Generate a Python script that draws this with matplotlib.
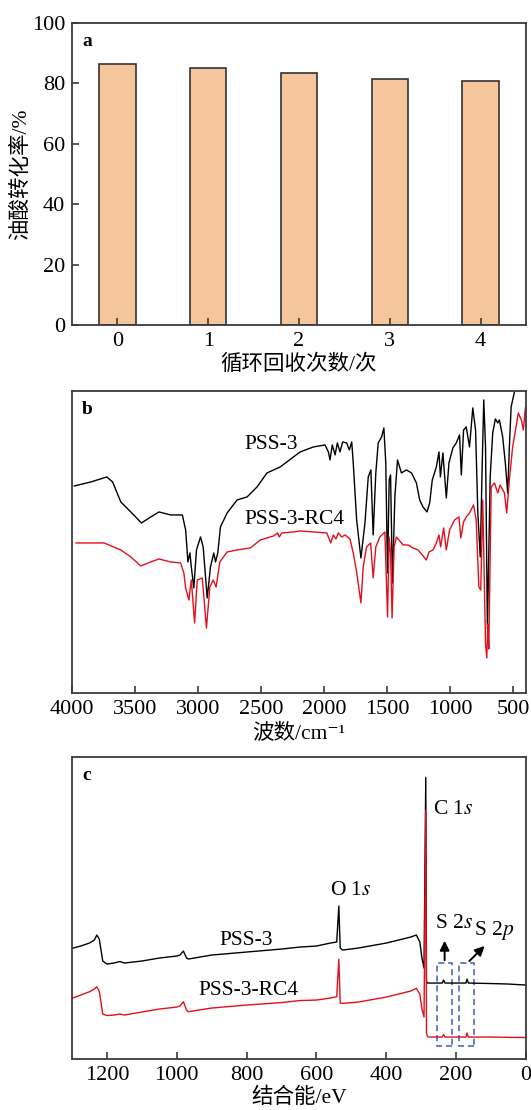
import matplotlib
matplotlib.use('Agg')
import matplotlib.pyplot as plt
from matplotlib.patches import Rectangle

plt.rcParams['font.family'] = ['Liberation Serif', 'Noto Sans CJK SC', 'DejaVu Serif']
plt.rcParams['mathtext.fontset'] = 'stix'

# (a) recycling test
cycles = [0, 1, 2, 3, 4]
conversion = [86.3, 85.1, 83.6, 81.5, 80.8]

# (b) FTIR, wavenumber (cm-1) vs transmittance (a.u.)
ir_wn_pss3 = [3982, 3850, 3724, 3678, 3613, 3534, 3449, 3376, 3310, 3218,
              3125, 3099, 3081, 3065, 3054, 3034, 3013, 2981, 2960, 2928,
              2902, 2876, 2862, 2844, 2823, 2770, 2691, 2612, 2533, 2454,
              2349, 2244, 2191, 2086, 1993, 1967, 1954, 1936, 1914, 1896,
              1875, 1854, 1822, 1801, 1782, 1770, 1743, 1709, 1677, 1651,
              1630, 1612, 1591, 1572, 1545, 1527, 1512, 1498, 1485, 1474,
              1459, 1440, 1419, 1388, 1348, 1308, 1269, 1243, 1217, 1185,
              1164, 1143, 1111, 1090, 1079, 1059, 1032, 1011, 980, 953,
              927, 913, 895, 874, 848, 822, 800, 782, 763, 747,
              735, 721, 706, 684, 664, 643, 624, 611, 585, 564,
              545, 532, 518, 492, 477]
ir_t_pss3 = [208, 212, 217, 212, 192, 182, 171, 177, 182, 179,
             179, 164, 132, 141, 127, 106, 144, 157, 147, 96,
             127, 141, 132, 141, 167, 181, 194, 197, 207, 221,
             227, 237, 242, 247, 249, 242, 234, 249, 239, 251,
             242, 252, 251, 244, 252, 231, 174, 136, 171, 217,
             224, 159, 221, 251, 257, 266, 231, 121, 214, 219,
             111, 197, 234, 221, 224, 221, 211, 194, 187, 182,
             191, 214, 227, 242, 217, 241, 196, 231, 246, 251,
             259, 219, 264, 267, 247, 286, 264, 181, 137, 231,
             294, 247, 65, 217, 261, 275, 271, 274, 257, 231,
             201, 247, 287, 302, 309]

ir_wn_rc4 = [3968, 3745, 3613, 3534, 3455, 3376, 3310, 3218, 3139, 3113,
             3099, 3073, 3054, 3028, 3007, 2967, 2934, 2907, 2881, 2857,
             2828, 2770, 2691, 2586, 2507, 2402, 2370, 2357, 2336, 2244,
             2191, 1980, 1948, 1928, 1907, 1888, 1861, 1835, 1796, 1770,
             1743, 1709, 1691, 1664, 1632, 1612, 1591, 1559, 1519, 1498,
             1485, 1474, 1462, 1446, 1427, 1375, 1335, 1296, 1256, 1190,
             1169, 1138, 1111, 1090, 1077, 1053, 1032, 1006, 966, 932,
             917, 895, 874, 848, 816, 795, 774, 759, 743, 721,
             711, 703, 695, 676, 650, 624, 605, 571, 553, 532,
             506, 479, 461, 437, 421, 405]
ir_t_rc4 = [151, 151, 144, 137, 128, 132, 135, 132, 131, 121,
            106, 94, 114, 71, 114, 116, 66, 107, 114, 107,
            132, 142, 144, 146, 154, 158, 161, 157, 161, 162,
            163, 161, 151, 159, 155, 161, 157, 159, 155, 141,
            122, 91, 127, 147, 151, 116, 147, 157, 162, 77,
            157, 141, 76, 147, 157, 149, 149, 146, 144, 134,
            142, 144, 151, 159, 147, 166, 144, 164, 174, 177,
            156, 172, 177, 181, 189, 174, 107, 104, 194, 50,
            36, 70, 45, 207, 211, 201, 209, 201, 181, 214,
            247, 267, 281, 274, 264, 286]

# (c) XPS survey, binding energy (eV) vs counts (a.u.)
xps_be = [1300, 1275, 1250, 1236, 1229, 1222, 1212, 1200, 1180, 1163,
          1150, 1100, 1050, 1000, 991, 981, 972, 967, 900, 800,
          700, 647, 600, 560, 542, 536, 532, 525, 480, 400,
          330, 314, 304, 298, 292, 287, 285, 282, 275, 240,
          236, 232, 200, 172, 169, 165, 100, 50, 0]
xps_pss3 = [110.7, 113, 116, 119, 124, 120, 98, 95, 96, 97.5,
            96, 98, 101, 103, 104, 108, 101, 100, 104, 107,
            110, 112, 113, 116, 117, 153, 111, 109, 111, 116,
            122, 124, 117, 101, 91, 281.7, 78, 76, 76, 76,
            79, 76, 76, 76, 80, 76, 75.5, 75, 74]
xps_rc4 = [60.7, 64, 67.3, 70, 72.3, 68, 45, 43.5, 44, 45,
           44, 47, 50, 52, 53, 57.3, 49, 47.3, 51, 54,
           56.5, 58.5, 59, 61, 62.3, 99.7, 56, 55.7, 57, 62,
           68, 70.7, 65, 50, 42, 249, 26, 22.3, 22, 22,
           24.5, 22, 22, 22, 26, 22, 22, 21.7, 21.5]

red = '#E3101C'
spine_c = '#3a3a3a'
fs = 16
lfs = 15.5

fig = plt.figure(figsize=(5.31, 11.10), dpi=100)
ax1 = fig.add_axes([0.1356, 0.7072, 0.855, 0.2721])
ax2 = fig.add_axes([0.1356, 0.3757, 0.855, 0.2721])
ax3 = fig.add_axes([0.1356, 0.0459, 0.855, 0.2721])

for ax in (ax1, ax2, ax3):
    for s in ax.spines.values():
        s.set_color(spine_c)
        s.set_linewidth(1.3)
    ax.tick_params(direction='in', length=5, width=1.2, labelsize=fs, pad=5,
                   colors='black')
    ax.tick_params(color=spine_c)

# panel a
ax1.bar(cycles, conversion, width=0.4, color='#F5C59C', edgecolor='#333333', linewidth=1.2)
ax1.set_xlim(-0.5, 4.5)
ax1.set_ylim(0, 100)
ax1.set_xticks(cycles)
ax1.set_yticks([0, 20, 40, 60, 80, 100])
ax1.set_xlabel('循环回收次数/次', fontsize=lfs)
ax1.xaxis.set_label_coords(0.5, -0.098)
ax1.set_ylabel('油酸转化率/%', fontsize=lfs)
ax1.yaxis.set_label_coords(-0.09, 0.5)
ax1.text(0.022, 0.94, 'a', transform=ax1.transAxes, fontsize=14,
         fontweight='bold', va='center')

# panel b
ax2.plot(ir_wn_pss3, ir_t_pss3, color='black', lw=1.0)
ax2.plot(ir_wn_rc4, ir_t_rc4, color=red, lw=1.0)
ax2.set_xlim(4000, 400)
ax2.set_ylim(1, 303)
ax2.set_xticks([4000, 3500, 3000, 2500, 2000, 1500, 1000, 500])
ax2.set_yticks([])
ax2.text(2421, 249, 'PSS-3', fontsize=lfs, ha='center', va='center')
ax2.text(2239, 174, 'PSS-3-RC4', fontsize=lfs, ha='center', va='center')
ax2.set_xlabel('波数/cm⁻¹', fontsize=lfs)
ax2.xaxis.set_label_coords(0.5, -0.104)
ax2.text(0.022, 0.94, 'b', transform=ax2.transAxes, fontsize=14,
         fontweight='bold', va='center')

# panel c
ax3.plot(xps_be, xps_pss3, color='black', lw=1.0)
ax3.plot(xps_be, xps_rc4, color=red, lw=1.0)
ax3.set_xlim(1300, 0)
ax3.set_ylim(0, 302)
ax3.set_xticks([1200, 1000, 800, 600, 400, 200, 0])
ax3.set_yticks([])
ax3.text(800, 119, 'PSS-3', fontsize=lfs, ha='center', va='center')
ax3.text(796, 69, 'PSS-3-RC4', fontsize=lfs, ha='center', va='center')
ax3.text(503, 169, 'O 1$s$', fontsize=lfs, ha='center', va='center')
ax3.text(265, 250, 'C 1$s$', fontsize=lfs, ha='left', va='center')
ax3.text(207, 136, 'S 2$s$', fontsize=lfs, ha='center', va='center')
ax3.text(91, 129, 'S 2$p$', fontsize=lfs, ha='center', va='center')
box_c = '#3B62B5'
for x0, x1 in [(254, 211), (191, 149)]:
    ax3.add_patch(Rectangle((x1, 13), x0 - x1, 82.7, fill=False, edgecolor=box_c,
                            linestyle=(0, (4, 2.5)), linewidth=1.1))
ax3.annotate('', xy=(233, 121), xytext=(233, 96),
             arrowprops=dict(arrowstyle='-|>', color='black', lw=1.4, mutation_scale=14))
ax3.annotate('', xy=(113, 115), xytext=(168, 96),
             arrowprops=dict(arrowstyle='-|>', color='black', lw=1.4, mutation_scale=14))
ax3.set_xlabel('结合能/eV', fontsize=lfs)
ax3.xaxis.set_label_coords(0.5, -0.096)
ax3.text(0.022, 0.94, 'c', transform=ax3.transAxes, fontsize=14,
         fontweight='bold', va='center')

fig.savefig('out.png', dpi=100)
